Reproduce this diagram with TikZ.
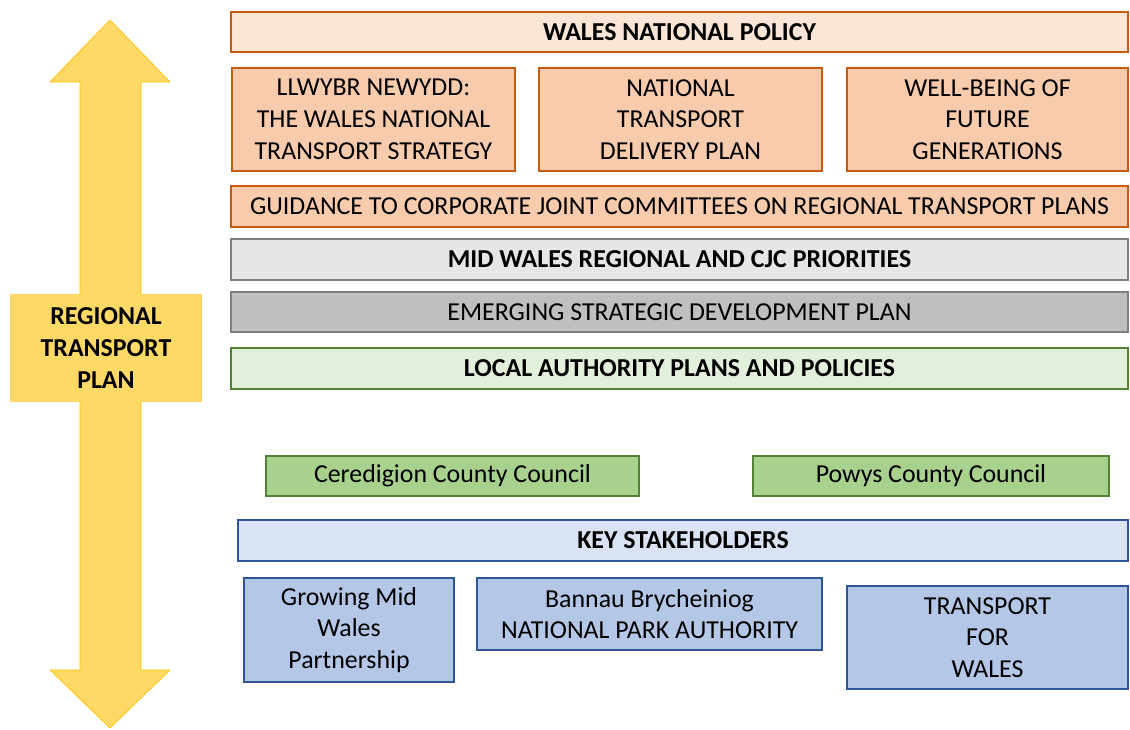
\documentclass[tikz,border=0pt]{standalone}
\usepackage{fontspec}
\setmainfont{Carlito}
\definecolor{rtpyellow}{HTML}{FFD966}
\definecolor{rtpedge}{HTML}{FFC000}
\definecolor{natedge}{HTML}{C55A11}
\definecolor{natlight}{HTML}{FBE5D6}
\definecolor{natfill}{HTML}{F8CBAD}
\definecolor{greyedge}{HTML}{7F7F7F}
\definecolor{greylight}{HTML}{E7E6E6}
\definecolor{greyfill}{HTML}{BFBFBF}
\definecolor{greenedge}{HTML}{548235}
\definecolor{greenlight}{HTML}{E2EFDA}
\definecolor{greenfill}{HTML}{A9D18E}
\definecolor{blueedge}{HTML}{2F5597}
\definecolor{bluelight}{HTML}{DAE3F3}
\definecolor{bluefill}{HTML}{B4C7E7}
\tikzset{
  planbox/.style={rectangle,inner sep=0pt,line width=2.2pt,align=center,
    font=\fontsize{19.4}{23.8}\selectfont},
  boldtext/.style={font=\fontsize{19.4}{23.8}\selectfont\bfseries},
  national/.style={planbox,draw=natedge,fill=natlight},
  nationalsub/.style={planbox,draw=natedge,fill=natfill},
  greybox/.style={planbox,draw=greyedge,fill=greylight},
  greydark/.style={planbox,draw=greyedge,fill=greyfill},
  localbox/.style={planbox,draw=greenedge,fill=greenlight},
  councilbox/.style={planbox,draw=greenedge,fill=greenfill},
  keybox/.style={planbox,draw=blueedge,fill=bluelight},
  stakebox/.style={planbox,draw=blueedge,fill=bluefill},
}
\begin{document}
\begin{tikzpicture}[x=0.75pt,y=-0.75pt]
\useasboundingbox (0,0) rectangle (1130,729);
% double arrow
\draw [draw=rtpedge,fill=rtpyellow,line width=0.5pt] (110,20) -- (170,82) -- (141,82) -- (141,670) -- (170,670)
  -- (110,728) -- (50,670) -- (80,670) -- (80,82) -- (50,82) -- cycle;
\node [planbox,boldtext,fill=rtpyellow,minimum width=144pt,minimum height=81pt] (rtp) at (106,348) {REGIONAL\\TRANSPORT\\PLAN};

% national policy
\node [national,boldtext,minimum width=672.75pt,minimum height=30pt] (wnp) at (679.5,32) {WALES NATIONAL POLICY};
\node [nationalsub,minimum width=212.25pt,minimum height=77.25pt] (llwybr) at (373.5,119.5) {LLWYBR NEWYDD:\\THE WALES NATIONAL\\TRANSPORT STRATEGY};
\node [nationalsub,minimum width=212.25pt,minimum height=77.25pt] (ntdp) at (680.5,119.5) {NATIONAL\\TRANSPORT\\DELIVERY PLAN};
\node [nationalsub,minimum width=210.75pt,minimum height=77.25pt] (wfg) at (987.5,119.5) {WELL-BEING OF\\FUTURE\\GENERATIONS};
\node [nationalsub,minimum width=672.75pt,minimum height=30.75pt] (guide) at (679.5,206.5) {GUIDANCE TO CORPORATE JOINT COMMITTEES ON REGIONAL TRANSPORT PLANS};

% regional and local
\node [greybox,boldtext,minimum width=672.75pt,minimum height=30.75pt] (midw) at (679.5,259.5) {MID WALES REGIONAL AND CJC PRIORITIES};
\node [greydark,minimum width=672.75pt,minimum height=30pt] (sdp) at (679.5,312) {EMERGING STRATEGIC DEVELOPMENT PLAN};
\node [localbox,boldtext,minimum width=672.75pt,minimum height=30.75pt] (lapp) at (679.5,368.5) {LOCAL AUTHORITY PLANS AND POLICIES};

\node [councilbox,minimum width=279.75pt,minimum height=30pt] (cere) at (452.5,476) {Ceredigion County Council};
\node [councilbox,minimum width=267pt,minimum height=30pt] (powys) at (931,476) {Powys County Council};

% stakeholders
\node [keybox,boldtext,minimum width=667.5pt,minimum height=30.75pt] (key) at (683,540.5) {KEY STAKEHOLDERS};
\node [stakebox,minimum width=157.5pt,minimum height=78pt] (gmw) at (349,630) {Growing Mid\\Wales\\Partnership};
\node [stakebox,minimum width=258.75pt,minimum height=54pt] (bannau) at (649.5,614) {Bannau Brycheiniog\\NATIONAL PARK AUTHORITY};
\node [stakebox,minimum width=210.75pt,minimum height=77.25pt] (tfw) at (987.5,637.5) {TRANSPORT\\FOR\\WALES};
\end{tikzpicture}
\end{document}
